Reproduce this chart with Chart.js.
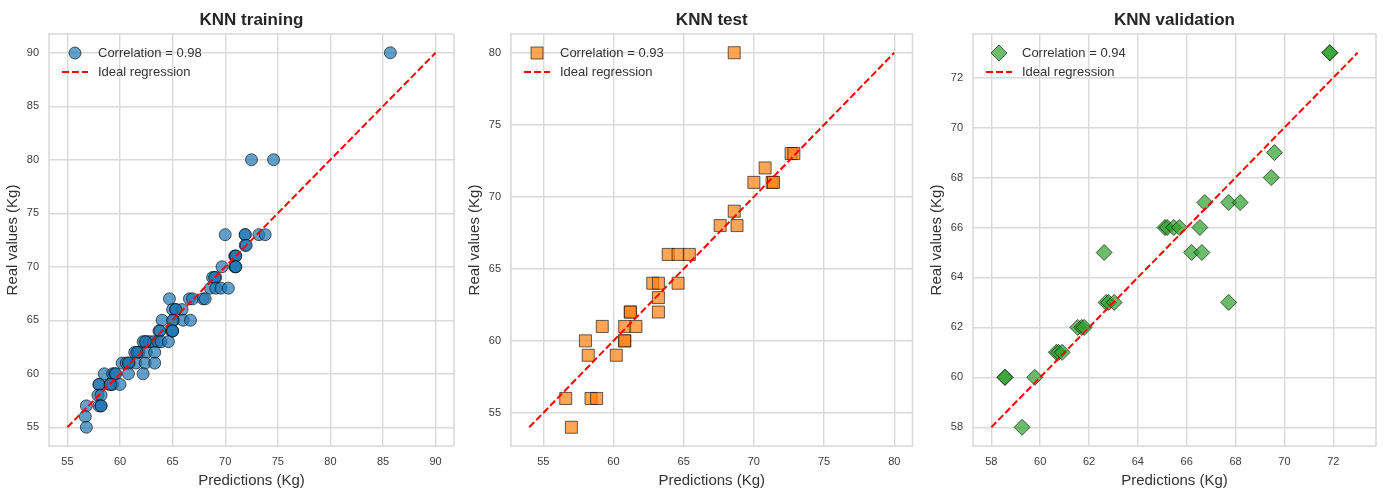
<!DOCTYPE html>
<html>
<head>
<meta charset="utf-8">
<title>KNN predictions</title>
<script src="https://cdn.jsdelivr.net/npm/chart.js@4/dist/chart.umd.min.js"></script>
<style>
  html, body { margin: 0; padding: 0; background: #fff; }
  #wrap { position: relative; width: 1387px; height: 488px; overflow: hidden; }
  canvas.panel { position: absolute; top: 0; }
</style>
</head>
<body>
<div id="wrap">
  <canvas id="trainChart" class="panel" width="461" height="488" style="left:0px"></canvas>
  <canvas id="testChart" class="panel" width="460" height="488" style="left:462px"></canvas>
  <canvas id="valChart" class="panel" width="461" height="488" style="left:924px"></canvas>
</div>
<script>
// training set: predictions vs real values (Kg)
const trainPred = [85.7, 72.5, 74.6,
  70.0, 71.9, 71.9, 73.2, 73.8, 71.9, 72.0,
  70.9, 71.0, 71.0, 69.7, 70.9, 71.0, 71.0,
  68.8, 69.1, 69.0, 68.6, 69.1, 69.6, 70.3,
  64.7, 66.6, 66.9, 67.9, 68.1, 65.0, 65.3, 65.9, 65.3,
  64.0, 65.1, 66.0, 66.7, 65.0, 63.7, 63.8, 64.9, 65.0, 65.0,
  62.2, 62.5, 62.8, 63.2, 63.6, 63.9, 64.6, 62.4,
  61.4, 61.7, 61.8, 62.5, 63.3, 61.6,
  60.2, 60.6, 60.9, 61.5, 62.4, 63.3, 60.8,
  58.5, 59.3, 59.5, 60.8, 62.2, 59.6,
  58.0, 59.0, 59.3, 60.0, 58.0, 59.1,
  57.9, 58.2, 56.8, 58.0, 58.2, 58.2, 56.7, 56.8];
const trainReal = [90, 80, 80,
  73, 73, 73, 73, 73, 72, 72,
  71, 71, 71, 70, 70, 70, 70,
  69, 69, 69, 68, 68, 68, 68,
  67, 67, 67, 67, 67, 66, 66, 66, 66,
  65, 65, 65, 65, 65, 64, 64, 64, 64, 64,
  63, 63, 63, 63, 63, 63, 63, 63,
  62, 62, 62, 62, 62, 62,
  61, 61, 61, 61, 61, 61, 61,
  60, 60, 60, 60, 60, 60,
  59, 59, 59, 59, 59, 59,
  58, 58, 57, 57, 57, 57, 56, 55];

// test set
const testPred = [68.6, 72.65, 72.85, 70.8, 70.0, 71.3, 71.4, 68.6, 67.6, 68.8,
  63.9, 64.6, 65.4, 62.8, 63.2, 64.6, 63.2, 61.2, 61.2, 63.2,
  59.2, 60.8, 61.6, 58.0, 60.8, 60.8, 58.2, 60.2, 56.6, 58.4, 58.8, 57.0];
const testReal = [80, 73, 73, 72, 71, 71, 71, 69, 68, 68,
  66, 66, 66, 64, 64, 64, 63, 62, 62, 62,
  61, 61, 61, 60, 60, 60, 59, 59, 56, 56, 56, 54];

// validation set
const valPred = [71.86, 71.86, 69.59, 69.46, 66.74, 67.72, 68.19,
  65.11, 65.2, 65.47, 65.7, 66.54, 62.62, 66.2, 66.62,
  67.72, 62.7, 62.8, 63.03, 61.54, 61.7, 61.8,
  60.66, 60.75, 60.9, 58.56, 58.56, 59.78, 59.26];
const valReal = [73, 73, 69, 68, 67, 67, 67,
  66, 66, 66, 66, 66, 65, 65, 65,
  63, 63, 63, 63, 62, 62, 62,
  61, 61, 61, 60, 60, 60, 58];

const correlations = [0.98, 0.93, 0.94];

// ideal regression endpoints (min, max of each set)
const trainIdeal = [55, 90];
const testIdeal = [54, 80];
const valIdeal = [58, 73];

// tick labels
const trainTicks = [55, 60, 65, 70, 75, 80, 85, 90];
const testTicks = [55, 60, 65, 70, 75, 80];
const valTicks = [58, 60, 62, 64, 66, 68, 70, 72];

const FONT = "'Liberation Sans', Arial, sans-serif";
const GRID = '#dadada';

function drawMarker(ctx, style, x, y, r) {
  ctx.beginPath();
  if (style === 'circle') {
    ctx.arc(x, y, r, 0, Math.PI * 2);
  } else if (style === 'rect') {
    const s = r * Math.SQRT1_2;
    ctx.rect(x - s, y - s, 2 * s, 2 * s);
  } else {
    ctx.moveTo(x - r, y);
    ctx.lineTo(x, y - r);
    ctx.lineTo(x + r, y);
    ctx.lineTo(x, y + r);
    ctx.closePath();
  }
  ctx.fill();
  ctx.stroke();
}

// frame around plot area + legend inside top-left
const boxPlugin = {
  id: 'boxLegend',
  beforeDatasetsDraw(chart) {
    const a = chart.chartArea;
    const ctx = chart.ctx;
    ctx.save();
    ctx.strokeStyle = GRID;
    ctx.lineWidth = 1.6;
    ctx.strokeRect(a.left, a.top, a.right - a.left, a.bottom - a.top);
    ctx.restore();
  },
  afterDraw(chart) {
    const a = chart.chartArea;
    const ctx = chart.ctx;
    const sc = chart.data.datasets[1];
    const ln = chart.data.datasets[0];
    ctx.save();
    ctx.fillStyle = sc.backgroundColor;
    ctx.strokeStyle = sc.borderColor;
    ctx.lineWidth = 1;
    drawMarker(ctx, sc.pointStyle, a.left + 26, a.top + 19, sc.pointRadius);
    ctx.strokeStyle = ln.borderColor;
    ctx.lineWidth = 2;
    ctx.setLineDash([7, 3]);
    ctx.beginPath();
    ctx.moveTo(a.left + 13, a.top + 38);
    ctx.lineTo(a.left + 39, a.top + 38);
    ctx.stroke();
    ctx.setLineDash([]);
    ctx.fillStyle = '#333';
    ctx.font = '13px ' + FONT;
    ctx.textBaseline = 'middle';
    ctx.textAlign = 'left';
    ctx.fillText(sc.label, a.left + 49, a.top + 19);
    ctx.fillText(ln.label, a.left + 49, a.top + 38);
    ctx.restore();
  }
};

function makePanel(id, title, pred, real, ideal, ticks, lo, hi, rgb, style, radius, corr) {
  const pts = pred.map((p, i) => ({ x: p, y: real[i] }));
  const axis = (isX) => ({
    type: 'linear',
    min: lo,
    max: hi,
    afterBuildTicks: (scale) => { scale.ticks = ticks.map(v => ({ value: v })); },
    afterFit: (scale) => {
      if (isX) scale.height = 42; else scale.width = 49;
      scale.paddingLeft = 0; scale.paddingRight = 0;
      scale.paddingTop = 0; scale.paddingBottom = 0;
    },
    grid: { color: GRID, lineWidth: 1.4, drawTicks: false },
    border: { display: false },
    ticks: {
      color: '#3c3c3c',
      font: { family: FONT, size: 11 },
      padding: isX ? 9 : 10,
      callback: (v) => String(v)
    },
    title: {
      display: true,
      text: isX ? 'Predictions (Kg)' : 'Real values (Kg)',
      color: '#333',
      font: { family: FONT, size: 15 },
      padding: isX ? { top: 0, bottom: -2 } : { top: 4, bottom: 0 }
    }
  });

  new Chart(document.getElementById(id).getContext('2d'), {
    type: 'scatter',
    data: {
      datasets: [
        {
          label: 'Ideal regression',
          data: [{ x: ideal[0], y: ideal[0] }, { x: ideal[1], y: ideal[1] }],
          showLine: true,
          borderColor: '#ff0000',
          borderWidth: 2,
          borderDash: [7, 3],
          pointRadius: 0,
          order: 0
        },
        {
          label: 'Correlation = ' + corr.toFixed(2),
          data: pts,
          pointStyle: style,
          pointRadius: radius,
          backgroundColor: `rgba(${rgb.join(',')},0.7)`,
          borderColor: 'rgba(0,0,0,0.6)',
          borderWidth: 1,
          order: 1
        }
      ]
    },
    options: {
      responsive: false,
      animation: false,
      layout: { padding: 0 },
      scales: { x: axis(true), y: axis(false) },
      plugins: {
        legend: { display: false },
        tooltip: { enabled: false },
        title: {
          display: true,
          fullSize: false,
          text: title,
          color: '#262626',
          font: { family: FONT, size: 17, weight: 'bold', lineHeight: 1.2 },
          padding: { top: 10, bottom: 3.6 }
        }
      }
    },
    plugins: [boxPlugin]
  });
}

makePanel('trainChart', 'KNN training', trainPred, trainReal, trainIdeal, trainTicks,
  53.25, 91.75, [31, 119, 180], 'circle', 6, correlations[0]);
makePanel('testChart', 'KNN test', testPred, testReal, testIdeal, testTicks,
  52.7, 81.3, [255, 127, 14], 'rect', 8.5, correlations[1]);
makePanel('valChart', 'KNN validation', valPred, valReal, valIdeal, valTicks,
  57.25, 73.75, [44, 160, 44], 'rectRot', 8, correlations[2]);
</script>
</body>
</html>
